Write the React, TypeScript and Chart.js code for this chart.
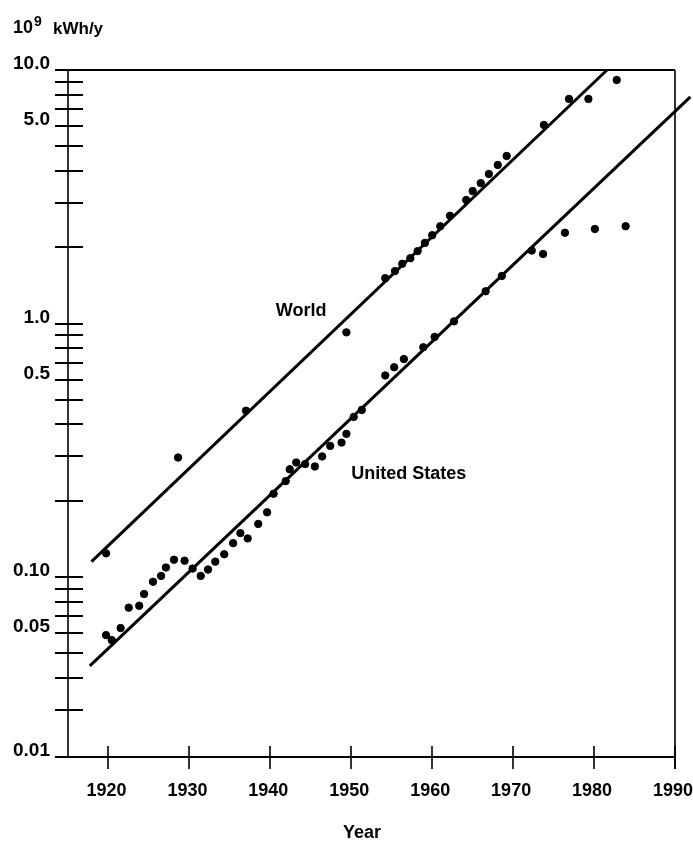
import React, { useEffect, useRef } from "react";
import { Chart, registerables } from "chart.js";

Chart.register(...registerables);

// ---------- data ----------
const worldYears = [1919.7, 1928.6, 1937.0, 1949.4, 1954.2, 1955.4, 1956.3, 1957.3, 1958.2, 1959.1, 1960.0, 1961.0, 1962.2, 1964.2, 1965.0, 1966.0, 1967.0, 1968.1, 1969.2, 1973.8, 1976.9, 1979.3, 1982.8];
const worldValues = [0.124, 0.296, 0.453, 0.923, 1.51, 1.61, 1.72, 1.81, 1.93, 2.08, 2.23, 2.42, 2.66, 3.07, 3.33, 3.58, 3.89, 4.22, 4.58, 6.07, 7.69, 7.69, 9.13];

const usYears = [1919.7, 1920.4, 1921.5, 1922.5, 1923.8, 1924.4, 1925.5, 1926.5, 1927.1, 1928.1, 1929.4, 1930.4, 1931.4, 1932.3, 1933.2, 1934.3, 1935.4, 1936.3, 1937.2, 1938.5, 1939.6, 1940.4, 1941.9, 1942.4, 1943.2, 1944.3, 1945.5, 1946.4, 1947.4, 1948.8, 1949.4, 1950.3, 1951.3, 1954.2, 1955.3, 1956.5, 1958.9, 1960.3, 1962.7, 1966.6, 1968.6, 1972.3, 1973.7, 1976.4, 1980.1, 1983.9];
const usValues = [0.059, 0.0564, 0.0629, 0.0757, 0.077, 0.0857, 0.0958, 0.101, 0.109, 0.117, 0.116, 0.108, 0.101, 0.107, 0.115, 0.123, 0.136, 0.149, 0.142, 0.162, 0.18, 0.213, 0.239, 0.266, 0.283, 0.279, 0.273, 0.299, 0.329, 0.339, 0.367, 0.428, 0.456, 0.624, 0.672, 0.724, 0.806, 0.885, 1.02, 1.34, 1.54, 1.94, 1.88, 2.28, 2.36, 2.42];

const worldFitYears = [1917.9, 1981.6];
const worldFitValues = [0.115, 10];
const usFitYears = [1917.7, 1991.9];
const usFitValues = [0.0446, 7.83];

const xTickYears = [1920, 1930, 1940, 1950, 1960, 1970, 1980, 1990];
const X_MIN = 1915;
const X_MAX = 1990;
const Y_MIN = 0.0195;
const Y_MAX = 10;
const yTickMarks = [10, 9, 8, 7, 6, 5, 4, 3, 2, 1, 0.9, 0.8, 0.7, 0.6, 0.5, 0.4, 0.3, 0.2, 0.1, 0.09, 0.08, 0.07, 0.06, 0.05, 0.04, 0.03];
const yLabelValues = [10, 6, 1, 0.6, 0.1, 0.06, Y_MIN];
const yLabelTexts = ["10.0", "5.0", "1.0", "0.5", "0.10", "0.05", "0.01"];

const seriesNames = ["World", "United States"];
const nameAnchorYears = [1943.8, 1957.1];
const nameAnchorValues = [1.12, 0.255];

const FONT = "'Liberation Sans', Arial, Helvetica, sans-serif";

const toPts = (xs: number[], ys: number[]) => xs.map((x, i) => ({ x, y: ys[i] }));

const framePlugin = {
  id: "frame",
  afterDraw(chart: any) {
    const ctx = chart.ctx as CanvasRenderingContext2D;
    const { left, right, top, bottom } = chart.chartArea;
    const xs = chart.scales.x;
    const ys = chart.scales.y;
    ctx.save();
    ctx.strokeStyle = "#000";
    ctx.lineCap = "butt";
    // frame
    ctx.lineWidth = 2;
    ctx.beginPath();
    ctx.moveTo(59, top);
    ctx.lineTo(right, top);
    ctx.moveTo(55, bottom);
    ctx.lineTo(right, bottom);
    ctx.stroke();
    ctx.lineWidth = 1.6;
    ctx.beginPath();
    ctx.moveTo(left, top);
    ctx.lineTo(left, bottom);
    ctx.moveTo(right, top);
    ctx.lineTo(right, bottom + 12);
    ctx.stroke();
    // crossing y ticks
    ctx.lineWidth = 2;
    ctx.beginPath();
    yTickMarks.forEach((v) => {
      const py = Math.round(ys.getPixelForValue(v));
      ctx.moveTo(left - 13, py);
      ctx.lineTo(left + 15, py);
    });
    ctx.stroke();
    // crossing x ticks
    ctx.lineWidth = 1.6;
    ctx.beginPath();
    xTickYears.forEach((yr) => {
      const px = Math.round(xs.getPixelForValue(yr));
      ctx.moveTo(px, bottom - 11);
      ctx.lineTo(px, bottom + 12);
    });
    ctx.stroke();

    // series names
    ctx.fillStyle = "#000";
    ctx.font = `bold 18px ${FONT}`;
    ctx.textAlign = "center";
    ctx.textBaseline = "middle";
    seriesNames.forEach((n, i) => {
      ctx.fillText(n, xs.getPixelForValue(nameAnchorYears[i]), ys.getPixelForValue(nameAnchorValues[i]));
    });

    // y-axis unit title
    ctx.textAlign = "left";
    ctx.textBaseline = "alphabetic";
    ctx.font = `bold 18px ${FONT}`;
    ctx.fillText("10", 13, 33);
    const w10 = ctx.measureText("10").width;
    ctx.font = `bold 14px ${FONT}`;
    ctx.fillText("9", 13 + w10 + 1, 26);
    ctx.font = `bold 17px ${FONT}`;
    ctx.fillText("kWh/y", 53, 34);

    // x-axis title
    ctx.textAlign = "center";
    ctx.font = `bold 18px ${FONT}`;
    ctx.fillText("Year", 362, 838);
    ctx.restore();
  },
};

export default function App() {
  const ref = useRef<HTMLCanvasElement>(null);
  useEffect(() => {
    const chart = new Chart(ref.current as HTMLCanvasElement, {
      type: "scatter",
      data: {
        datasets: [
          {
            type: "scatter",
            label: "World",
            data: toPts(worldYears, worldValues),
            backgroundColor: "#000",
            borderColor: "#000",
            pointRadius: 3.7,
            pointHoverRadius: 3.7,
          },
          {
            type: "scatter",
            label: "United States",
            data: toPts(usYears, usValues),
            backgroundColor: "#000",
            borderColor: "#000",
            pointRadius: 3.7,
            pointHoverRadius: 3.7,
          },
          {
            type: "line",
            label: "World trend",
            data: toPts(worldFitYears, worldFitValues),
            borderColor: "#000",
            borderWidth: 3,
            pointRadius: 0,
            fill: false,
            clip: false,
          } as any,
          {
            type: "line",
            label: "United States trend",
            data: toPts(usFitYears, usFitValues),
            borderColor: "#000",
            borderWidth: 3,
            pointRadius: 0,
            fill: false,
            clip: false,
          } as any,
        ],
      },
      options: {
        responsive: false,
        animation: false,
        events: [],
        layout: { autoPadding: false, padding: { top: 70, right: 18, left: 0, bottom: 0 } },
        plugins: {
          legend: { display: false },
          tooltip: { enabled: false },
          title: { display: false },
        },
        scales: {
          x: {
            type: "linear",
            min: X_MIN,
            max: X_MAX,
            grid: { display: false, drawTicks: false },
            border: { display: false },
            afterBuildTicks: (scale: any) => {
              scale.ticks = xTickYears.map((v) => ({ value: v }));
            },
            afterFit: (scale: any) => {
              scale.height = 85;
              scale.paddingLeft = 0;
              scale.paddingRight = 0;
            },
            ticks: {
              autoSkip: false,
              maxRotation: 0,
              padding: 23,
              labelOffset: -2,
              color: "#000",
              font: { family: FONT, size: 18, weight: "bold" },
              callback: (v: any) => String(v),
            },
          },
          y: {
            type: "logarithmic",
            min: Y_MIN,
            max: Y_MAX,
            grid: { display: false, drawTicks: false },
            border: { display: false },
            afterBuildTicks: (scale: any) => {
              scale.ticks = yLabelValues.map((v) => ({ value: v }));
            },
            afterFit: (scale: any) => {
              scale.width = 68;
              scale.paddingTop = 0;
              scale.paddingBottom = 0;
            },
            ticks: {
              autoSkip: false,
              padding: 18,
              labelOffset: -6,
              color: "#000",
              font: { family: FONT, size: 19, weight: "bold" },
              callback: (_v: any, i: number) => yLabelTexts[i],
            },
          },
        },
      } as any,
      plugins: [framePlugin],
    });
    return () => chart.destroy();
  }, []);
  return (
    <div style={{ position: "absolute", left: 0, top: 0, width: 693, height: 842, background: "#fff" }}>
      <canvas ref={ref} width={693} height={842} style={{ display: "block" }} />
    </div>
  );
}
